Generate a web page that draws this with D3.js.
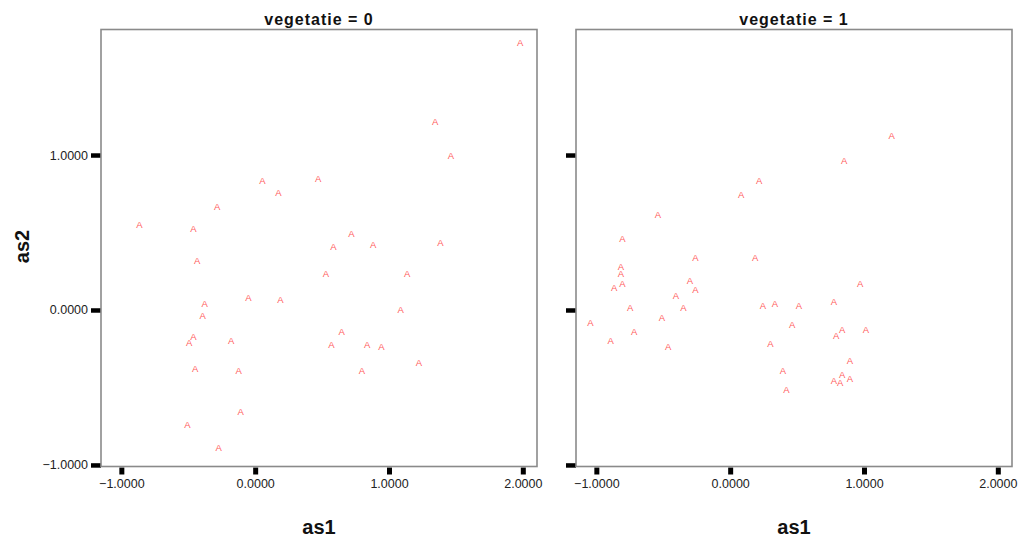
<!DOCTYPE html>
<html>
<head>
<meta charset="utf-8">
<script src="https://cdn.jsdelivr.net/npm/d3@7"></script>
<style>
  html, body { margin: 0; padding: 0; background: #fff; }
  svg { display: block; font-family: "Liberation Sans", Arial, sans-serif; }
</style>
</head>
<body>
<svg id="chart" width="1028" height="538"></svg>
<script>
// ---- data ----
const panelTitles = ["vegetatie = 0", "vegetatie = 1"];
const xTicks = [-1, 0, 1, 2];
const yTicks = [-1, 0, 1];
const xLabel = "as1";
const yLabel = "as2";
const markerLabel = "A";

const veg0_as1 = [1.981, 1.345, 1.462, 0.055, 0.471, 0.174, -0.284, -0.865, -0.461, 0.720,
  0.585, 0.882, 1.385, -0.433, 0.528, 1.136, -0.377, -0.050, 0.189, -0.392,
  1.088, 0.647, -0.461, -0.493, -0.179, 0.570, 0.837, 0.944, -0.448, -0.123,
  0.797, 1.223, -0.108, -0.506, -0.272];
const veg0_as2 = [1.725, 1.215, 0.995, 0.834, 0.850, 0.757, 0.666, 0.550, 0.525, 0.495,
  0.408, 0.419, 0.434, 0.318, 0.237, 0.237, 0.043, 0.082, 0.069, -0.034,
  0.005, -0.137, -0.172, -0.208, -0.195, -0.221, -0.221, -0.234, -0.376, -0.389,
  -0.389, -0.337, -0.654, -0.737, -0.886];

const veg1_as1 = [1.206, 0.852, 0.217, 0.082, -0.540, -0.805, -0.259, 0.187, -0.817, -0.817,
  -0.805, -0.867, -0.301, -0.259, -0.406, 0.972, -0.747, -0.349, -0.510, -1.044,
  -0.717, -0.892, -0.463, 0.244, 0.334, 0.513, 0.775, 0.463, 0.301, 0.837,
  0.792, 1.014, 0.895, 0.394, 0.837, 0.775, 0.822, 0.895, 0.421];
const veg1_as2 = [1.127, 0.963, 0.837, 0.744, 0.615, 0.460, 0.340, 0.340, 0.279, 0.237,
  0.172, 0.146, 0.187, 0.134, 0.095, 0.172, 0.017, 0.017, -0.047, -0.079,
  -0.137, -0.195, -0.234, 0.030, 0.043, 0.030, 0.056, -0.092, -0.219, -0.125,
  -0.163, -0.125, -0.325, -0.389, -0.415, -0.454, -0.466, -0.441, -0.516];

const panels = [
  { title: panelTitles[0], xs: veg0_as1, ys: veg0_as2, left: 101, showYLabels: true },
  { title: panelTitles[1], xs: veg1_as1, ys: veg1_as2, left: 576, showYLabels: false }
];

// ---- layout ----
const svg = d3.select("#chart");
const W = 436, H = 437, plotTop = 29.5;
const fmt = d3.format(".4f");

const x = d3.scaleLinear().domain([-1.152, 2.106]).range([0, W]);
const y = d3.scaleLinear().domain([-1.01, 1.81]).range([H, 0]);

panels.forEach(p => {
  const g = svg.append("g").attr("transform", `translate(${p.left},${plotTop})`);

  // title
  g.append("text")
    .attr("x", W / 2).attr("y", -4.5)
    .attr("text-anchor", "middle")
    .attr("font-size", 16).attr("font-weight", "bold").attr("fill", "#111")
    .attr("letter-spacing", "1px")
    .text(p.title);

  // y axis
  const ya = g.append("g").call(
    d3.axisLeft(y).tickValues(yTicks).tickSize(10).tickPadding(3)
      .tickFormat(p.showYLabels ? fmt : () => "")
  );
  ya.select(".domain").remove();
  ya.selectAll(".tick line").attr("stroke", "#000").attr("stroke-width", 4.5);
  ya.selectAll(".tick text").attr("font-size", 12.5).attr("fill", "#222")
    .attr("font-family", "'Liberation Sans', Arial, sans-serif");

  // x axis
  const xa = g.append("g").attr("transform", `translate(0,${H + 1})`).call(
    d3.axisBottom(x).tickValues(xTicks).tickSize(7).tickPadding(5).tickFormat(fmt)
  );
  xa.select(".domain").remove();
  xa.selectAll(".tick line").attr("stroke", "#000").attr("stroke-width", 5);
  xa.selectAll(".tick text").attr("font-size", 12.5).attr("fill", "#222")
    .attr("font-family", "'Liberation Sans', Arial, sans-serif");

  // frame
  g.append("rect")
    .attr("x", 0).attr("y", 0).attr("width", W).attr("height", H)
    .attr("fill", "none").attr("stroke", "#8a8a8a").attr("stroke-width", 1.6);

  // points
  g.append("g").selectAll("text")
    .data(p.xs.map((v, i) => [v, p.ys[i]]))
    .join("text")
    .attr("x", d => x(d[0]))
    .attr("y", d => y(d[1]))
    .attr("dy", "0.36em")
    .attr("text-anchor", "middle")
    .attr("font-size", 9.5)
    .attr("fill", "#ff5c5c")
    .text(markerLabel);

  // x label
  g.append("text")
    .attr("x", W / 2).attr("y", H + 67)
    .attr("text-anchor", "middle")
    .attr("font-size", 20).attr("font-weight", "bold").attr("fill", "#111")
    .text(xLabel);
});

// y label
svg.append("text")
  .attr("transform", "translate(29,246.5) rotate(-90)")
  .attr("text-anchor", "middle")
  .attr("font-size", 20).attr("font-weight", "bold").attr("fill", "#111")
  .text(yLabel);
</script>
</body>
</html>
